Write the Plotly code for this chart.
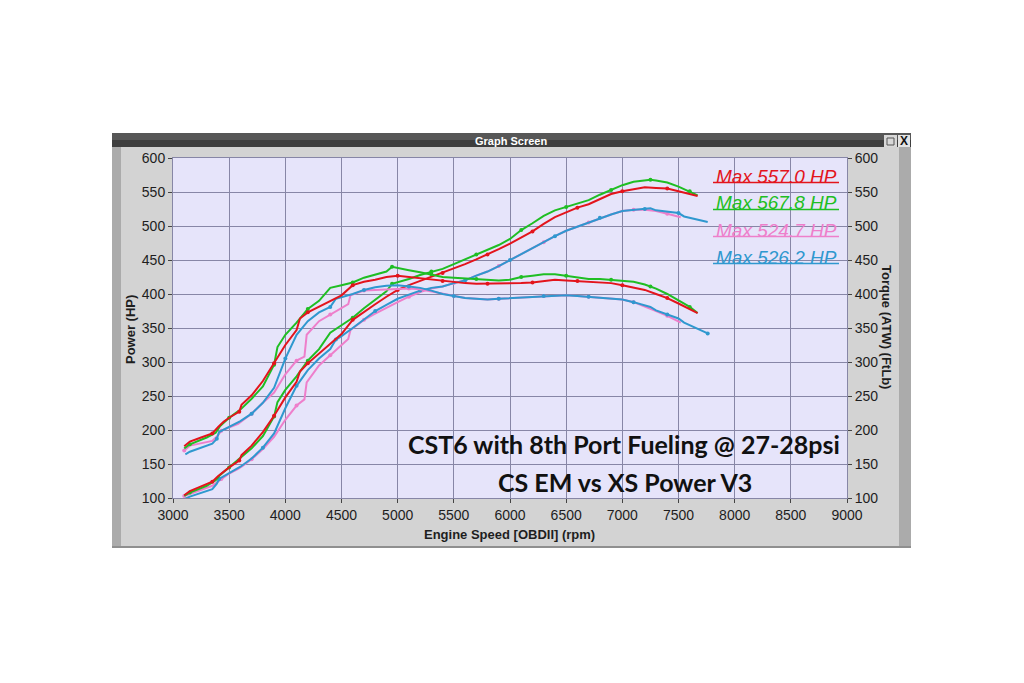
import plotly.graph_objects as go

# ---------------- data ----------------
rpm_red = [3100, 3150, 3250, 3350, 3400, 3450, 3500, 3590, 3610, 3700,
           3800, 3900, 4000, 4100, 4130, 4200, 4300, 4400, 4500, 4600,
           4700, 4800, 4900, 5000, 5100, 5200, 5300, 5400, 5500, 5600,
           5700, 5800, 5900, 6000, 6100, 6200, 6300, 6400, 6500, 6600,
           6700, 6800, 6900, 7000, 7100, 7200, 7300, 7400, 7500, 7600, 7670]
tq_red = [176, 183, 189, 195, 204, 212, 218, 227, 237, 251,
          272, 298, 325, 347, 364, 373, 381, 389, 398, 413,
          418, 421, 425, 427, 425, 423, 422, 419, 418, 416,
          415, 415, 415, 415, 416, 417, 419, 421, 420, 419,
          417, 416, 416, 413, 410, 406, 400, 394, 386, 378, 372]
hp_red = [104, 110, 117, 124, 132, 139, 145, 155, 163, 177,
          197, 221, 248, 271, 286, 298, 312, 326, 341, 362,
          374, 385, 396, 406, 413, 419, 426, 431, 438, 444,
          451, 458, 466, 474, 483, 492, 503, 513, 520, 527,
          532, 539, 547, 551, 554, 557, 556, 555, 551, 547, 544]

rpm_green = [3100, 3150, 3300, 3380, 3420, 3500, 3600, 3700, 3800, 3900,
             3930, 4000, 4100, 4200, 4300, 4400, 4500, 4600, 4700, 4800,
             4900, 4950, 5000, 5100, 5200, 5300, 5400, 5500, 5600, 5700,
             5800, 5900, 6000, 6100, 6200, 6300, 6400, 6500, 6600, 6700,
             6800, 6900, 7000, 7100, 7200, 7250, 7300, 7400, 7500, 7600, 7670]
tq_green = [173, 179, 189, 196, 206, 218, 230, 246, 264, 296,
            322, 340, 358, 378, 390, 409, 413, 417, 424, 429,
            433, 440, 438, 435, 432, 429, 425, 424, 423, 422,
            421, 420, 421, 425, 427, 429, 429, 427, 424, 422,
            422, 421, 420, 418, 414, 411, 408, 400, 391, 381, 372]
hp_green = [103, 108, 118, 126, 134, 145, 158, 173, 191, 220,
            241, 259, 279, 302, 319, 343, 354, 365, 379, 392,
            404, 415, 417, 422, 428, 433, 437, 444, 451, 458,
            465, 472, 481, 494, 504, 515, 523, 528, 533, 538,
            546, 553, 560, 565, 567, 568, 567, 564, 558, 551, 545]

rpm_blue = [3110, 3150, 3350, 3390, 3410, 3500, 3600, 3700, 3800, 3900,
            3950, 4000, 4100, 4200, 4300, 4400, 4450, 4500, 4600, 4700,
            4800, 4900, 5000, 5100, 5200, 5300, 5400, 5500, 5600, 5700,
            5800, 5900, 6000, 6100, 6200, 6300, 6400, 6500, 6600, 6700,
            6800, 6900, 7000, 7100, 7200, 7250, 7300, 7400, 7500, 7550,
            7650, 7760]
tq_blue = [164, 168, 180, 187, 197, 205, 213, 224, 240, 262,
           283, 305, 340, 360, 373, 381, 393, 395, 400, 406,
           410, 412, 413, 411, 409, 405, 400, 397, 394, 393,
           392, 393, 394, 395, 396, 397, 398, 398, 397, 396,
           395, 394, 392, 388, 383, 381, 376, 370, 364, 358,
           350, 342]
hp_blue = [99, 102, 113, 121, 128, 137, 146, 158, 174, 195,
           213, 232, 265, 288, 305, 319, 333, 338, 350, 363,
           375, 384, 393, 399, 405, 409, 411, 416, 420, 427,
           433, 441, 450, 459, 467, 476, 485, 493, 499, 505,
           512, 517, 522, 524, 525, 526, 523, 521, 519, 514,
           510, 506]

rpm_pink = [3100, 3150, 3350, 3400, 3430, 3500, 3580, 3620, 3700, 3800,
            3900, 4000, 4100, 4170, 4190, 4300, 4400, 4500, 4560, 4580,
            4700, 4800, 4900, 5000, 5100, 5200, 5300, 5400, 5500, 5600,
            5700, 5800, 5900, 6000, 6100, 6200, 6300, 6400, 6500, 6600,
            6700, 6800, 6900, 7000, 7100, 7200, 7250, 7300, 7400, 7520]
tq_pink = [170, 177, 184, 192, 199, 204, 209, 214, 224, 240,
           255, 282, 302, 308, 340, 360, 370, 379, 385, 398,
           405, 406, 407, 408, 408, 407, 404, 400, 397, 394,
           393, 392, 393, 394, 395, 396, 397, 398, 398, 397,
           396, 395, 394, 392, 388, 382, 379, 375, 368, 358]
hp_pink = [103, 106, 118, 124, 128, 136, 143, 147, 157, 172,
           190, 215, 236, 245, 270, 295, 310, 325, 334, 347,
           362, 371, 380, 388, 396, 403, 408, 411, 416, 420,
           427, 433, 441, 450, 459, 467, 476, 485, 493, 499,
           505, 512, 517, 522, 524, 524, 523, 522, 518, 513]

max_labels = ["Max 557.0 HP", "Max 567.8 HP", "Max 524.7 HP", "Max 526.2 HP"]
x_ticks = [3000, 3500, 4000, 4500, 5000, 5500, 6000, 6500, 7000, 7500, 8000, 8500, 9000]
y_ticks = [100, 150, 200, 250, 300, 350, 400, 450, 500, 550, 600]

RED, GREEN, PINK, BLUE = "#E3141C", "#1FBE23", "#EE7FCB", "#2F98CF"

# ---------------- figure ----------------
W, H = 1024, 683
OFF = 8  # default page (body) margin of the html page
L, R, T, B = 173 - OFF, 847 - OFF, 158 - OFF, 498 - OFF


def fx(p):
    return (p - OFF - L) / (R - L)


def fy(p):
    return (B - (p - OFF)) / (B - T)


fig = go.Figure()
series = [
    (rpm_pink, hp_pink, tq_pink, PINK),
    (rpm_blue, hp_blue, tq_blue, BLUE),
    (rpm_green, hp_green, tq_green, GREEN),
    (rpm_red, hp_red, tq_red, RED),
]
for rpm, hp, tq, col in series:
    fig.add_trace(go.Scatter(x=rpm, y=tq, mode="lines+markers", yaxis="y2",
                             line=dict(color=col, width=2),
                             marker=dict(color=col, size=4, maxdisplayed=14)))
    fig.add_trace(go.Scatter(x=rpm, y=hp, mode="lines+markers",
                             line=dict(color=col, width=2),
                             marker=dict(color=col, size=4, maxdisplayed=14)))

GRID = "#8786A6"
TICKFONT = dict(family="Liberation Sans, Arial, sans-serif", size=14, color="#1E1E1E")

fig.update_layout(
    width=W, height=H,
    margin=dict(l=L, r=W - R, t=T, b=H - B, pad=0),
    paper_bgcolor="white",
    plot_bgcolor="#E6E4FA",
    showlegend=False,
    xaxis=dict(range=[3000, 9000], tickvals=x_ticks, showgrid=True,
               gridcolor=GRID, gridwidth=1, zeroline=False,
               ticks="outside", ticklen=4, tickcolor="#444",
               showline=True, linecolor=GRID, mirror=True,
               tickfont=TICKFONT),
    yaxis=dict(range=[100, 600], tickvals=y_ticks, showgrid=True,
               gridcolor=GRID, gridwidth=1, zeroline=False,
               ticks="outside", ticklen=4, tickcolor="#444",
               showline=True, linecolor=GRID, mirror=True,
               tickfont=TICKFONT),
    yaxis2=dict(range=[100, 600], tickvals=y_ticks, overlaying="y",
                side="right", showgrid=False, zeroline=False,
                ticks="outside", ticklen=4, tickcolor="#444",
                showline=False, tickfont=TICKFONT),
)


def rect(x0, x1, y0, y1, color, **kw):
    d = dict(type="rect", xref="paper", yref="paper", x0=fx(x0), x1=fx(x1),
             y0=fy(y1), y1=fy(y0), fillcolor=color, line=dict(width=0), layer="below")
    d.update(kw)
    return d


shapes = [
    rect(112, 911, 147, 547, "#D3D3D3"),
    rect(112, 121, 147, 547, "#ABABAB"),
    rect(899, 911, 147, 547, "#ABABAB"),
    rect(112, 911, 546, 548, "#8F8F8F"),
    rect(112, 911, 133, 147, "#3E3E3E"),
    rect(112, 911, 133, 140, "#575757"),
    rect(884, 897, 135, 147, "#D8D8D8"),
    rect(898, 910, 135, 147, "#E4E4E4"),
    rect(887, 894, 138, 145, "rgba(0,0,0,0)", line=dict(width=1, color="#555"), layer="above"),
    rect(173, 847, 158, 498, "#E6E4FA"),
]
for yy, col in zip([182.5, 209.5, 236.5, 263.5], [RED, GREEN, PINK, BLUE]):
    shapes.append(dict(type="line", xref="paper", yref="paper", x0=fx(713), x1=fx(839),
                       y0=fy(yy), y1=fy(yy), line=dict(color=col, width=1.5)))
fig.update_layout(shapes=shapes)

BOLD = "Liberation Sans, Arial, sans-serif"


def note(text, x, y, size, color, family=BOLD, angle=0):
    return dict(text=text, x=fx(x), y=fy(y), xref="paper", yref="paper",
                xanchor="center", yanchor="middle", showarrow=False, textangle=angle,
                font=dict(family=family, size=size, color=color))


ann = [
    note("<b>Graph Screen</b>", 511, 140.5, 11, "white"),
    note("<b>X</b>", 904, 141, 12, "#111"),
    note("<b>Power (HP)</b>", 130, 330, 13, "#1E1E1E", angle=-90),
    note("<b>Torque (ATW) (FtLb)</b>", 887, 327, 13, "#1E1E1E", angle=90),
    note("<b>Engine Speed [OBDII] (rpm)</b>", 509, 534, 13, "#1E1E1E"),
]
for lab, yy, col in zip(max_labels, [176, 202.5, 230, 257], [RED, GREEN, PINK, BLUE]):
    ann.append(note("<i>" + lab + "</i>", 776, yy, 19, col))
BIG = "Lato, Roboto, sans-serif"
ann.append(note("<b>CST6 with 8th Port Fueling @ 27-28psi</b>", 624, 444, 25, "#111", family=BIG))
ann.append(note("<b>CS EM vs XS Power V3</b>", 625, 482, 25, "#111", family=BIG))
fig.update_layout(annotations=ann)

fig.write_html("out.html")
